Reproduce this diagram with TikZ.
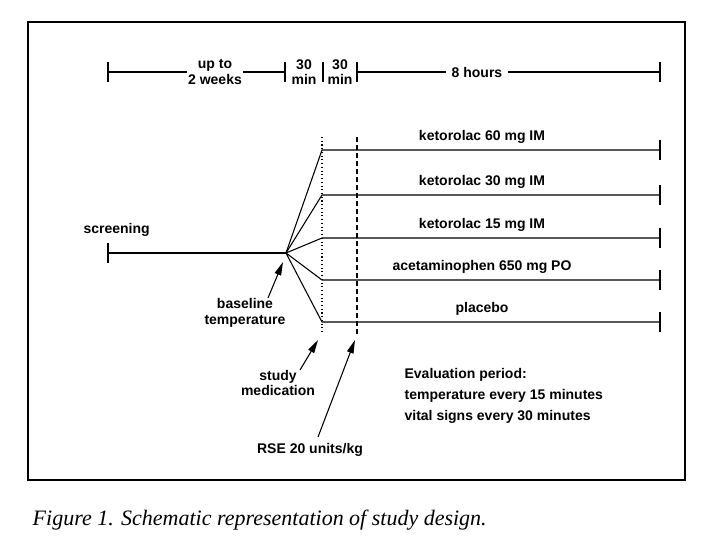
\documentclass[tikz,border=0pt]{standalone}
\usepackage{fontspec}
\setmainfont{Liberation Serif}
\setsansfont{Liberation Sans}
\usetikzlibrary{arrows.meta,positioning}
\tikzset{
  lbl/.style={font=\sffamily\bfseries\fontsize{10.5}{11.5}\selectfont, align=center, inner sep=1pt},
  tline/.style={thick},
  tick/.style={thick},
  pointer/.style={-{Triangle[length=10pt,width=5pt]}, thick}
}
\begin{document}
\begin{tikzpicture}[x=0.75pt,y=-0.75pt]
  \useasboundingbox (0,0) rectangle (712,559);
  % frame
  \draw[thick] (28,22) rectangle (685,480);

  % top time scale
  \foreach \x in {108,285,323,357,660} {
    \draw[tick] (\x,62) -- (\x,82);
  }
  \node[lbl] (weeks) at (215,72) {up to\\2 weeks};
  \node[lbl] (mina) at (304,72) {30\\min};
  \node[lbl] (minb) at (340,72) {30\\min};
  \node[lbl, inner sep=4pt] (hours) at (477,72) {8 hours};
  \draw[tline] (108,72) -- (weeks.west);
  \draw[tline] (weeks.east) -- (285,72);
  \draw[tline] (357,72) -- (hours.west);
  \draw[tline] (hours.east) -- (660,72);

  % screening
  \coordinate (start) at (108,253);
  \coordinate (fan) at (286,253);
  \draw[tick] (108,243) -- (108,263);
  \draw[tline] (start) -- (fan);
  \node[lbl, anchor=west] (screen) at (82,230) {screening};

  % treatment arms
  \foreach \y/\t [count=\i] in {150/ketorolac 60 mg IM, 195/ketorolac 30 mg IM,
      238/ketorolac 15 mg IM, 280/acetaminophen 650 mg PO, 322/placebo} {
    \coordinate (arm\i) at (322,\y);
    \coordinate (end\i) at (660,\y);
    \draw[tline] (fan) -- (arm\i) -- (end\i);
    \draw[tick] (660,\y-10) -- (660,\y+10);
    \node[lbl] (name\i) at (482,\y-13) {\t};
  }

  % medication and RSE times
  \draw[thick, dotted] (322,137) -- (322,332);
  \draw[thick, dash pattern=on 4pt off 2pt] (357,137) -- (357,335);

  % pointers
  \node[lbl] (base) at (245,313) {baseline\\temperature};
  \node[lbl] (med) at (278,383) {study\\medication};
  \node[lbl] (rse) at (310,450) {RSE 20 units/kg};
  \draw[pointer] (268,298) -- (283,262);
  \draw[pointer] (300,370) -- (318,340);
  \draw[pointer] (318,437) -- (355,340);

  % evaluation notes
  \node[lbl, anchor=north west, align=left] (eval) at (403,367)
    {Evaluation period:\\[4pt]temperature every 15 minutes\\[4pt]vital signs every 30 minutes};

  % caption
  \node[anchor=west, font=\itshape\fontsize{16.5}{18}\selectfont] (cap) at (28,520)
    {Figure 1. Schematic representation of study design.};
\end{tikzpicture}
\end{document}
